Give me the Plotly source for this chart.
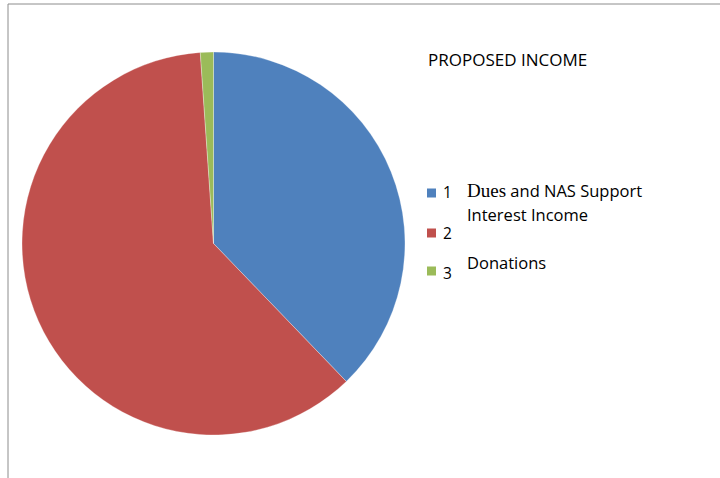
import plotly.graph_objects as go

categories = ["1", "2", "3"]
labels = ["Dues and NAS Support", "Interest Income", "Donations"]
values = [37.8, 61.1, 1.1]
colors = ["#4F81BD", "#C0504D", "#9BBB59"]
title = "PROPOSED INCOME"

W, H = 720, 478
def px(x): return x / W
def py(y): return 1 - y / H

fig = go.Figure()
fig.add_trace(go.Pie(
    labels=categories, values=values, sort=False, direction="clockwise", rotation=0,
    marker=dict(colors=colors, line=dict(color="rgba(255,255,255,0.6)", width=0.5)),
    textinfo="none", hoverinfo="label+percent", showlegend=False,
    domain=dict(x=[px(22), px(405)], y=[py(435), py(52)]),
))

shapes = [
    dict(type="line", xref="paper", yref="paper", x0=px(8), x1=px(720), y0=py(4), y1=py(4),
         line=dict(color="#8c8c8c", width=1)),
    dict(type="line", xref="paper", yref="paper", x0=px(8), x1=px(8), y0=py(4), y1=py(478),
         line=dict(color="#8c8c8c", width=1)),
]
annotations = [dict(text=title, x=px(426), y=py(59), xref="paper", yref="paper", xanchor="left",
                    yanchor="middle", showarrow=False, font=dict(family="Open Sans", size=17, color="#000"))]

def label_text(s):
    if s.startswith("Dues"):
        first, rest = s.split(" ", 1)
        return ('<span style="font-family:\'Liberation Serif\';font-size:19px">' + first +
                '</span> ' + rest)
    return s

sq_y = [193, 233, 271]
num_y = [192, 233, 273]
lab_y = [191, 214, 262]
for i in range(3):
    shapes.append(dict(type="rect", xref="paper", yref="paper",
                       x0=px(427), x1=px(436), y0=py(sq_y[i] + 4.5), y1=py(sq_y[i] - 4.5),
                       fillcolor=colors[i], line=dict(width=0)))
    annotations.append(dict(text=categories[i], x=px(441), y=py(num_y[i]), xref="paper", yref="paper",
                            xanchor="left", yanchor="middle", showarrow=False,
                            font=dict(family="Open Sans", size=15.5, color="#000")))
    annotations.append(dict(text=label_text(labels[i]), x=px(465), y=py(lab_y[i]), xref="paper", yref="paper",
                            xanchor="left", yanchor="middle", showarrow=False,
                            font=dict(family="Open Sans", size=16.5, color="#000")))

fig.update_layout(width=W, height=H, margin=dict(l=0, r=0, t=0, b=0),
                  paper_bgcolor="white", plot_bgcolor="white",
                  shapes=shapes, annotations=annotations)
fig.write_html("out.html")
